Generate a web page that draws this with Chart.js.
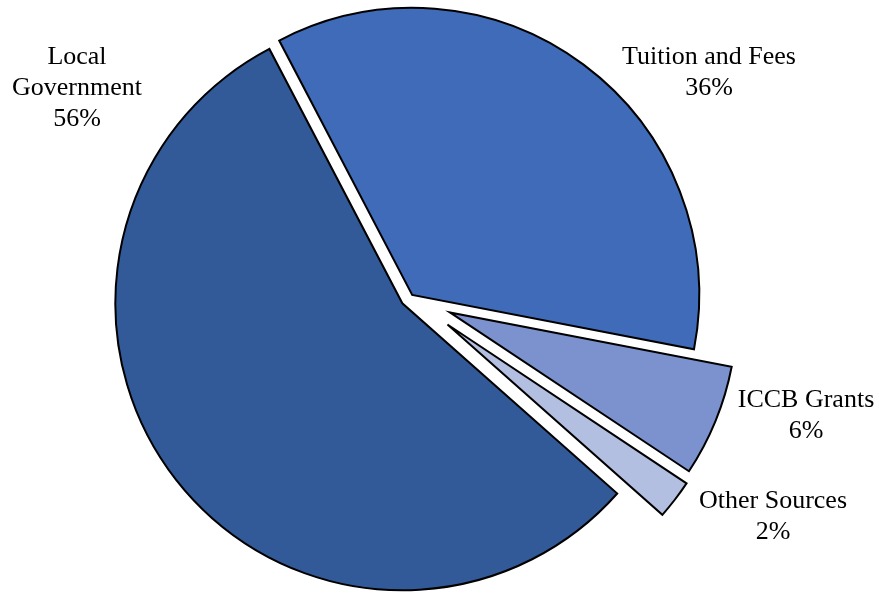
<!DOCTYPE html>
<html>
<head>
<meta charset="utf-8">
<script src="https://cdn.jsdelivr.net/npm/chart.js@4.4.1/dist/chart.umd.min.js"></script>
<style>
  html, body { margin: 0; padding: 0; background: #ffffff; }
  #wrap { width: 879px; height: 593px; position: relative; }
</style>
</head>
<body>
<div id="wrap"><canvas id="pie_chart"></canvas></div>
<script>
const categories = ["Tuition and Fees", "ICCB Grants", "Other Sources", "Local Government"]
const shares = [35.7, 6.3, 2.2, 55.8]
const sliceColors = ["#3F6BB8", "#7B92CE", "#B3BFE0", "#335A98"]
// how far each slice is pulled out of the pie, px
const explode = [2, 42, 46, 11]

// label centres, relative to the pie centre (px)
const labelSpots = [
  { dx: 298, dy: -224 },
  { dx: 395, dy: 119 },
  { dx: 362, dy: 220 },
  { dx: -334, dy: -208 },
]

// Excel style explosion: move the whole slice, keep its radius
const explodeSlices = {
  id: "explodeSlices",
  afterDatasetsUpdate(chart) {
    const arcs = chart.getDatasetMeta(0).data
    arcs.forEach((arc, i) => {
      const mid = (arc.startAngle + arc.endAngle) / 2
      arc.x += Math.cos(mid) * explode[i]
      arc.y += Math.sin(mid) * explode[i]
    })
  },
}

const sliceLabels = {
  id: "sliceLabels",
  afterDraw(chart) {
    const ctx = chart.ctx
    const area = chart.chartArea
    const cx0 = (area.left + area.right) / 2
    const cy0 = (area.top + area.bottom) / 2
    const total = shares.reduce((a, b) => a + b, 0)
    ctx.save()
    ctx.fillStyle = "#000000"
    ctx.font = "26px 'Liberation Serif', 'Times New Roman', serif"
    ctx.textAlign = "center"
    ctx.textBaseline = "middle"
    categories.forEach((name, i) => {
      const pct = Math.round((shares[i] / total) * 100) + "%"
      const lines = name === "Local Government" ? ["Local", "Government", pct] : [name, pct]
      const cx = cx0 + labelSpots[i].dx
      const cy = cy0 + labelSpots[i].dy
      lines.forEach((line, j) => {
        ctx.fillText(line, cx, cy + (j - (lines.length - 1) / 2) * 31)
      })
    })
    ctx.restore()
  },
}

new Chart(document.getElementById("pie_chart"), {
  type: "pie",
  data: {
    labels: categories,
    datasets: [
      {
        data: shares,
        backgroundColor: sliceColors,
        borderColor: "#000000",
        borderWidth: 2,
        borderJoinStyle: "miter",
      },
    ],
  },
  options: {
    responsive: true,
    maintainAspectRatio: false,
    animation: false,
    rotation: -27.6,
    radius: 287,
    layout: {
      padding: { left: 0, right: 57, top: 0, bottom: 0 },
    },
    plugins: {
      legend: { display: false },
      title: { display: false },
      tooltip: { enabled: false },
    },
  },
  plugins: [explodeSlices, sliceLabels],
})
</script>
</body>
</html>
